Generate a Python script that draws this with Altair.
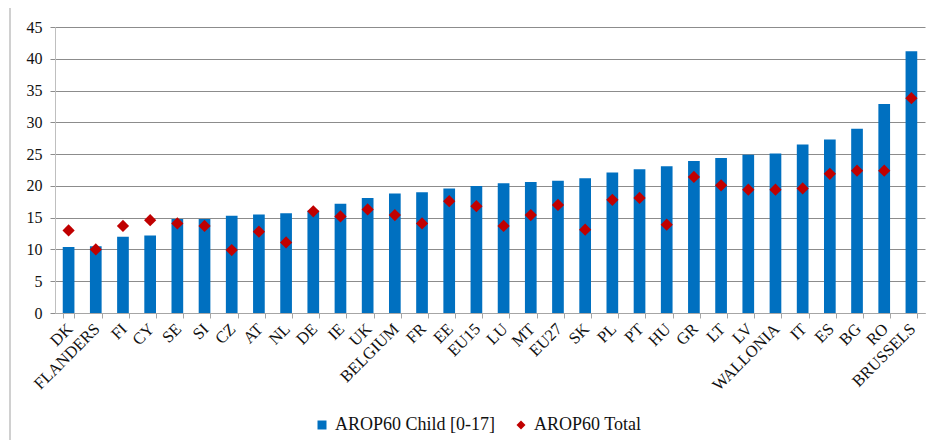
import altair as alt
import pandas as pd

categories = ["DK", "FLANDERS", "FI", "CY", "SE", "SI", "CZ", "AT", "NL", "DE",
              "IE", "UK", "BELGIUM", "FR", "EE", "EU15", "LU", "MT", "EU27", "SK",
              "PL", "PT", "HU", "GR", "LT", "LV", "WALLONIA", "IT", "ES", "BG",
              "RO", "BRUSSELS"]
child = [10.4, 10.5, 12.0, 12.2, 14.8, 14.8, 15.3, 15.5, 15.7, 16.1,
         17.2, 18.1, 18.8, 19.0, 19.6, 20.0, 20.4, 20.6, 20.8, 21.2,
         22.1, 22.6, 23.1, 23.9, 24.4, 24.9, 25.1, 26.5, 27.3, 29.0,
         32.9, 41.2]
total = [13.0, 10.0, 13.7, 14.6, 14.1, 13.7, 9.9, 12.8, 11.1, 16.0,
         15.2, 16.3, 15.4, 14.1, 17.6, 16.8, 13.7, 15.4, 17.0, 13.1,
         17.8, 18.1, 13.9, 21.4, 20.1, 19.4, 19.4, 19.6, 21.9, 22.4,
         22.4, 33.8]
series_names = ["AROP60 Child [0-17]", "AROP60 Total"]

df = pd.DataFrame({
    "country": categories * 2,
    "value": child + total,
    "series": [series_names[0]] * len(categories) + [series_names[1]] * len(categories),
})

FONT = "Liberation Serif"

x_enc = alt.X(
    "country:N", sort=categories,
    scale=alt.Scale(paddingInner=0.57, paddingOuter=0.285),
    axis=alt.Axis(title=None, labelAngle=315, labelAlign="right", labelBaseline="middle",
                  labelPadding=8, labelOffset=1, tickBand="extent", tickSize=5,
                  tickColor="#a6a6a6", domainColor="#a6a6a6", labelFont=FONT,
                  labelFontSize=16.5, labelColor="#111111", grid=False,
                  labelOverlap=False, labelLimit=0),
)
y_enc = alt.Y(
    "value:Q", scale=alt.Scale(domain=[0, 45], nice=False),
    axis=alt.Axis(title=None, values=list(range(0, 50, 5)), tickSize=5,
                  tickColor="#8c8c8c", domainColor="#bfbfbf", gridColor="#8c8c8c",
                  gridWidth=1, labelPadding=8, labelFont=FONT, labelFontSize=16,
                  labelColor="#111111"),
)
legend_cfg = dict(title=None, orient="none", legendX=258, legendY=389,
                  direction="horizontal", labelFont=FONT, labelFontSize=18,
                  labelColor="#111111", symbolSize=81, columnPadding=16,
                  labelOffset=4, labelLimit=0, symbolStrokeWidth=0)
color_enc = alt.Color(
    "series:N",
    scale=alt.Scale(domain=series_names, range=["#0070C0", "#C00000"]),
    legend=alt.Legend(**legend_cfg),
)
shape_enc = alt.Shape(
    "series:N",
    scale=alt.Scale(domain=series_names, range=["square", "diamond"]),
    legend=alt.Legend(**legend_cfg),
)

bars = alt.Chart(df).transform_filter(
    alt.datum.series == series_names[0]
).mark_bar().encode(x=x_enc, y=y_enc, color=color_enc)

points = alt.Chart(df).transform_filter(
    alt.datum.series == series_names[1]
).mark_point(filled=True, size=150, opacity=1).encode(
    x=x_enc, y=y_enc, color=color_enc, shape=shape_enc)

frame_df = pd.DataFrame({"k": [0]})
frame_left = alt.Chart(frame_df).mark_rule(color="#d0d0d0", strokeWidth=2).encode(
    x=alt.value(-45), y=alt.value(-22), y2=alt.value(440))
frame_top = alt.Chart(frame_df).mark_rule(color="#d0d0d0", strokeWidth=2).encode(
    x=alt.value(-45), x2=alt.value(900), y=alt.value(-22))

chart = alt.layer(frame_left, frame_top, bars, points).properties(
    width=870, height=286,
    autosize=alt.AutoSizeParams(type="none"),
    padding={"left": 47, "top": 19, "right": 2, "bottom": 127},
).configure_view(stroke=None)

chart.save("out.html", embed_options={"renderer": "svg", "actions": False})
